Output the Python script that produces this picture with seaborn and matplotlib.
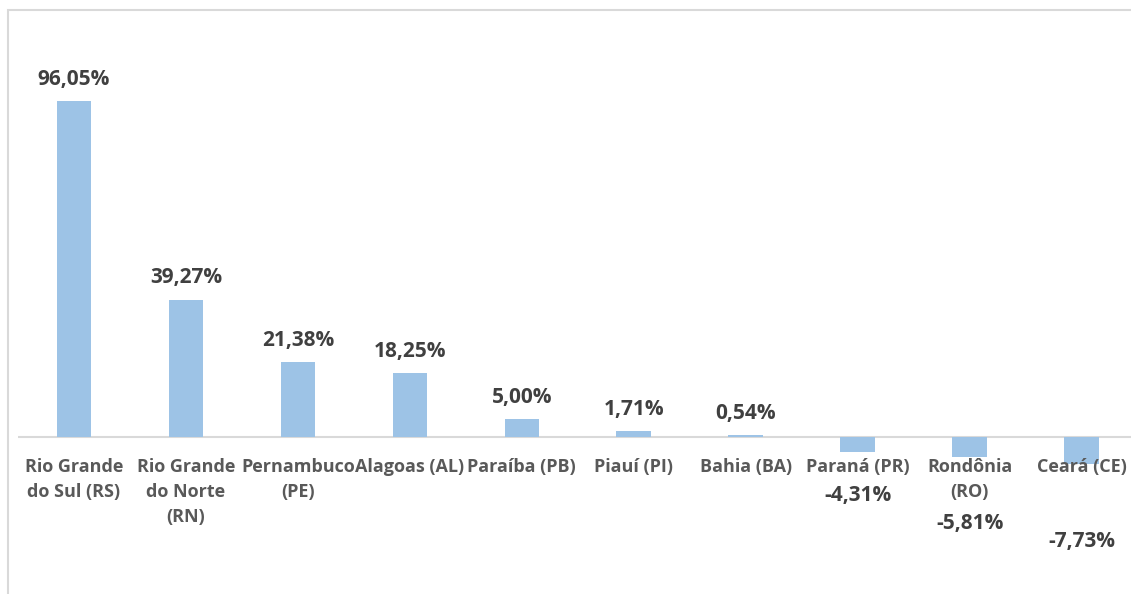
import matplotlib
matplotlib.use("Agg")
import matplotlib.pyplot as plt
import seaborn as sns
import pandas as pd
from matplotlib.patches import Rectangle

categories = ["Rio Grande\ndo Sul (RS)", "Rio Grande\ndo Norte\n(RN)", "Pernambuco\n(PE)",
              "Alagoas (AL)", "Paraíba (PB)", "Piauí (PI)", "Bahia (BA)",
              "Paraná (PR)", "Rondônia\n(RO)", "Ceará (CE)"]
values = [96.05, 39.27, 21.38, 18.25, 5.00, 1.71, 0.54, -4.31, -5.81, -7.73]
value_labels = ["96,05%", "39,27%", "21,38%", "18,25%", "5,00%", "1,71%", "0,54%",
                "-4,31%", "-5,81%", "-7,73%"]

sns.set_style("white")
plt.rcParams['font.family'] = ['Open Sans', 'DejaVu Sans']

W, H = 1131, 594
fig = plt.figure(figsize=(W / 100, H / 100), dpi=100)
fig.patch.set_facecolor("white")

# outer chart border
fig.add_artist(Rectangle((8 / W, -0.1), 1.2, 1 - 10 / H + 0.1, transform=fig.transFigure,
                         fill=False, edgecolor="#D9D9D9", linewidth=1.5))

ax = fig.add_axes([18 / W, 0, 1 - 18 / W, (H - 10) / H])
df = pd.DataFrame({"cat": categories, "val": values})
sns.barplot(data=df, x="cat", y="val", color="#9DC3E6", saturation=1, width=0.31,
            linewidth=0, ax=ax)

ax.set_xlim(-0.5, 9.44)
ax.set_ylim(-44.86, 122)
ax.axhline(0, color="#D9D9D9", linewidth=1.5, zorder=0)
for s in ax.spines.values():
    s.set_visible(False)
ax.set_yticks([])
ax.set_xticklabels([])
ax.set_xlabel("")
ax.set_ylabel("")
ax.tick_params(axis="x", length=0)

for i, cat in enumerate(categories):
    ax.annotate(cat, (i, 0), xytext=(0, -15), textcoords="offset points",
                ha="center", va="top", fontsize=13, fontweight="bold", color="#595959",
                linespacing=1.5, annotation_clip=False)

neg_offsets = [-31, -47.5, -56]
ni = 0
for i, (v, lab) in enumerate(zip(values, value_labels)):
    if v >= 0:
        ax.annotate(lab, (i, v), xytext=(0, 8), textcoords="offset points",
                    ha="center", va="bottom", fontsize=15, fontweight="bold", color="#404040")
    else:
        ax.annotate(lab, (i, v), xytext=(0, neg_offsets[ni]), textcoords="offset points",
                    ha="center", va="center", fontsize=15, fontweight="bold", color="#404040")
        ni += 1

fig.savefig("out.png", dpi=100)
